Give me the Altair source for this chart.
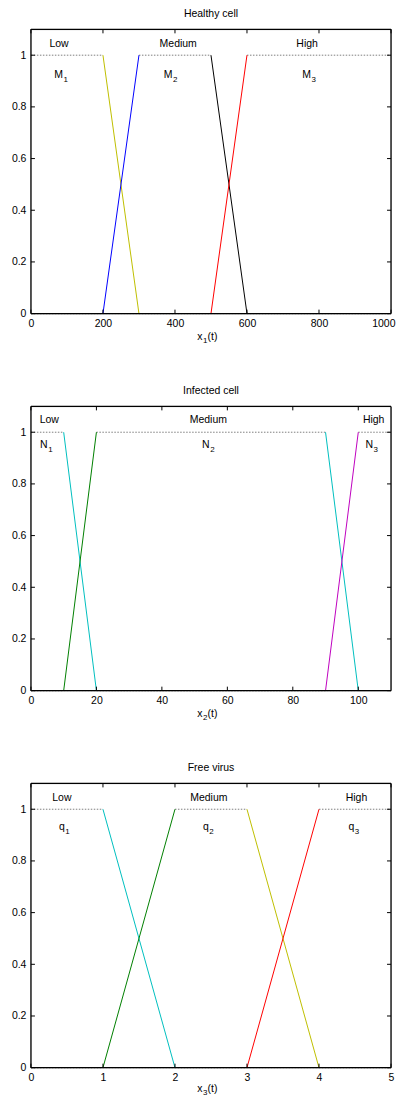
import altair as alt
import pandas as pd

FONT = "Liberation Sans"
W, H = 361, 285
FS = 10.5
SUBFS = 8

YTICKS = [0, 0.2, 0.4, 0.6, 0.8, 1.0]

# ---------------- Panel 1: Healthy cell ----------------
hc_title = "Healthy cell"
hc_xdomain = [0, 1000]
hc_xticks = [0, 200, 400, 600, 800, 1000]
hc_sets = ["M1", "M2", "M3"]
hc_bx = [[0, 200, 300, 1000], [0, 200, 300, 500, 600, 1000], [0, 500, 600, 1000]]
hc_by = [[1, 1, 0, 0], [0, 0, 1, 1, 0, 0], [0, 0, 1, 1]]
hc_slope_colors = [["#bfbf00"], ["#0000ff", "#000000"], ["#ff0000"]]
hc_cat_text = ["Low", "Medium", "High"]
hc_cat_x = [78, 409, 767]
hc_cat_y = [1.031, 1.031, 1.031]
hc_set_letter = "M"
hc_set_sub = ["1", "2", "3"]
hc_set_x = [89, 393, 778]
hc_set_y = [0.911, 0.911, 0.911]
hc_var_sub = "1"

# ---------------- Panel 2: Infected cell ----------------
in_title = "Infected cell"
in_xdomain = [0, 110]
in_xticks = [0, 20, 40, 60, 80, 100]
in_sets = ["N1", "N2", "N3"]
in_bx = [[0, 10, 20, 110], [0, 10, 20, 90, 100, 110], [0, 90, 100, 110]]
in_by = [[1, 1, 0, 0], [0, 0, 1, 1, 0, 0], [0, 0, 1, 1]]
in_slope_colors = [["#00bfbf"], ["#008000", "#00bfbf"], ["#bf00bf"]]
in_cat_text = ["Low", "Medium", "High"]
in_cat_x = [5.6, 54.2, 104.7]
in_cat_y = [1.037, 1.037, 1.037]
in_set_letter = "N"
in_set_sub = ["1", "2", "3"]
in_set_x = [5.1, 54.6, 104.5]
in_set_y = [0.938, 0.938, 0.938]
in_var_sub = "2"

# ---------------- Panel 3: Free virus ----------------
fv_title = "Free virus"
fv_xdomain = [0, 5]
fv_xticks = [0, 1, 2, 3, 4, 5]
fv_sets = ["q1", "q2", "q3"]
fv_bx = [[0, 1, 2, 5], [0, 1, 2, 3, 4, 5], [0, 3, 4, 5]]
fv_by = [[1, 1, 0, 0], [0, 0, 1, 1, 0, 0], [0, 0, 1, 1]]
fv_slope_colors = [["#00bfbf"], ["#008000", "#bfbf00"], ["#ff0000"]]
fv_cat_text = ["Low", "Medium", "High"]
fv_cat_x = [0.43, 2.47, 4.52]
fv_cat_y = [1.03, 1.03, 1.03]
fv_set_letter = "q"
fv_set_sub = ["1", "2", "3"]
fv_set_x = [0.47, 2.47, 4.49]
fv_set_y = [0.919, 0.919, 0.919]
fv_var_sub = "3"


def segments(names, bxs, bys, cols):
    rows = []
    for name, bx, by, cl in zip(names, bxs, bys, cols):
        ci = 0
        for i in range(len(bx) - 1):
            seg = f"{name}_{i}"
            if by[i] == by[i + 1]:
                kind, color = "flat", "#7f7f7f"
            else:
                kind, color = "slope", cl[ci]
                ci += 1
            rows.append(dict(seg=seg, x=bx[i], y=by[i], kind=kind, color=color))
            rows.append(dict(seg=seg, x=bx[i + 1], y=by[i + 1], kind=kind, color=color))
    return pd.DataFrame(rows)


def panel(title, xdomain, xticks, names, bxs, bys, cols, cat_text, cat_x, cat_y,
          letter, subs, set_x, set_y, var_sub, ttl_y):
    xs = alt.Scale(domain=xdomain, nice=False, zero=False)
    ys = alt.Scale(domain=[0, 1.1], nice=False)
    xaxis = alt.Axis(values=xticks, ticks=False, domain=False, grid=False, labelFlush=False,
                     labelOverlap=False, title=None, labelFontSize=FS, labelFont=FONT,
                     labelColor="black", labelPadding=5, format="d",
                     labelAlign={"condition": {"test": "datum.value >= 1000", "value": "right"},
                                 "value": "center"},
                     labelOffset={"condition": {"test": "datum.value >= 1000", "value": 4},
                                  "value": 0})
    yaxis = alt.Axis(values=YTICKS, ticks=False, domain=False, grid=False, labelFlush=False,
                     labelOverlap=False, title=None, labelFontSize=FS, labelFont=FONT,
                     labelColor="black", labelPadding=5, format=".1~f")

    seg = segments(names, bxs, bys, cols)
    base = alt.Chart(seg)
    flats = base.transform_filter(alt.datum.kind == "flat").mark_line(
        strokeWidth=1, strokeDash=[1.5, 1.5], color="#7f7f7f"
    ).encode(
        x=alt.X("x:Q", scale=xs, axis=xaxis),
        y=alt.Y("y:Q", scale=ys, axis=yaxis),
        detail="seg:N",
    )
    slopes = base.transform_filter(alt.datum.kind == "slope").mark_line(strokeWidth=1).encode(
        x=alt.X("x:Q", scale=xs),
        y=alt.Y("y:Q", scale=ys),
        detail="seg:N",
        color=alt.Color("color:N", scale=None),
    )

    cats = alt.Chart(pd.DataFrame({"t": cat_text, "x": cat_x, "y": cat_y})).mark_text(
        font=FONT, fontSize=FS, align="center", baseline="alphabetic", color="black"
    ).encode(x=alt.X("x:Q", scale=xs), y=alt.Y("y:Q", scale=ys), text="t:N")

    sdf = pd.DataFrame({"l": [letter] * len(subs), "s": subs, "x": set_x, "y": set_y})
    let = alt.Chart(sdf).mark_text(
        font=FONT, fontSize=FS, align="right", baseline="alphabetic", color="black"
    ).encode(x=alt.X("x:Q", scale=xs), y=alt.Y("y:Q", scale=ys), text="l:N")
    sub = alt.Chart(sdf).mark_text(
        font=FONT, fontSize=SUBFS, align="left", baseline="alphabetic", color="black", dx=0.5, dy=4
    ).encode(x=alt.X("x:Q", scale=xs), y=alt.Y("y:Q", scale=ys), text="s:N")

    one = pd.DataFrame({"a": [0]})
    t1 = alt.Chart(one).mark_text(text="x", font=FONT, fontSize=FS, align="right",
                                  baseline="alphabetic", color="black").encode(
        x=alt.value(172), y=alt.value(H + ttl_y))
    t2 = alt.Chart(one).mark_text(text=var_sub, font=FONT, fontSize=SUBFS, align="left",
                                  baseline="alphabetic", color="black").encode(
        x=alt.value(172.5), y=alt.value(H + ttl_y + 3))
    t3 = alt.Chart(one).mark_text(text="(t)", font=FONT, fontSize=FS, align="left",
                                  baseline="alphabetic", color="black").encode(
        x=alt.value(177), y=alt.value(H + ttl_y))

    xt = pd.DataFrame({"v": xticks})
    yt = pd.DataFrame({"v": YTICKS})
    tb = alt.Chart(xt).mark_rule(color="black", strokeWidth=1).encode(
        x=alt.X("v:Q", scale=xs), y=alt.value(H), y2=alt.value(H - 4))
    tt = alt.Chart(xt).mark_rule(color="black", strokeWidth=1).encode(
        x=alt.X("v:Q", scale=xs), y=alt.value(0), y2=alt.value(4))
    tl = alt.Chart(yt).mark_rule(color="black", strokeWidth=1).encode(
        y=alt.Y("v:Q", scale=ys), x=alt.value(0), x2=alt.value(4))
    tr = alt.Chart(yt).mark_rule(color="black", strokeWidth=1).encode(
        y=alt.Y("v:Q", scale=ys), x=alt.value(W - 4), x2=alt.value(W))

    fr = alt.Chart(one)
    f1 = fr.mark_rule(color="black", strokeWidth=1.3).encode(
        x=alt.value(0), x2=alt.value(W), y=alt.value(0))
    f2 = fr.mark_rule(color="black", strokeWidth=1.3).encode(
        x=alt.value(0), x2=alt.value(W), y=alt.value(H))
    f3 = fr.mark_rule(color="black", strokeWidth=1.3).encode(
        y=alt.value(0), y2=alt.value(H), x=alt.value(0))
    f4 = fr.mark_rule(color="black", strokeWidth=1.3).encode(
        y=alt.value(0), y2=alt.value(H), x=alt.value(W))

    return alt.layer(flats, slopes, cats, let, sub, t1, t2, t3, tb, tt, tl, tr, f1, f2, f3, f4).properties(
        width=W, height=H,
        title=alt.TitleParams(title, font=FONT, fontSize=FS, fontWeight="normal",
                              color="black", anchor="middle", offset=9),
    )


p1 = panel(hc_title, hc_xdomain, hc_xticks, hc_sets, hc_bx, hc_by, hc_slope_colors,
           hc_cat_text, hc_cat_x, hc_cat_y, hc_set_letter, hc_set_sub, hc_set_x, hc_set_y,
           hc_var_sub, 26)
p2 = panel(in_title, in_xdomain, in_xticks, in_sets, in_bx, in_by, in_slope_colors,
           in_cat_text, in_cat_x, in_cat_y, in_set_letter, in_set_sub, in_set_x, in_set_y,
           in_var_sub, 26)
p3 = panel(fv_title, fv_xdomain, fv_xticks, fv_sets, fv_bx, fv_by, fv_slope_colors,
           fv_cat_text, fv_cat_x, fv_cat_y, fv_set_letter, fv_set_sub, fv_set_x, fv_set_y,
           fv_var_sub, 24)

chart = alt.vconcat(p1, p2, p3, spacing=40).properties(
    padding={"left": 2, "top": -1, "right": 0, "bottom": 0}
).configure_view(stroke=None).configure(background="white")

chart.save("out.html", embed_options={"renderer": "svg", "actions": False})
